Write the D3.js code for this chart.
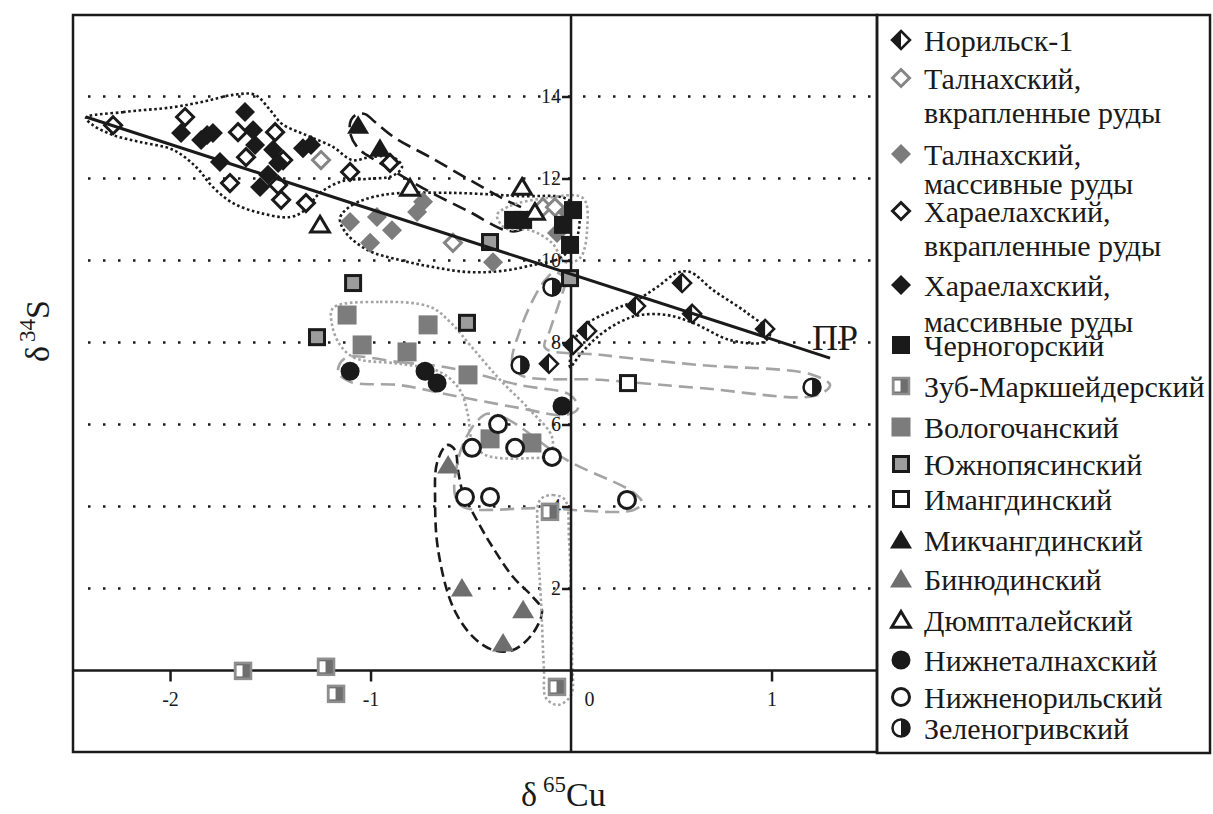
<!DOCTYPE html>
<html>
<head>
<meta charset="utf-8">
<script src="https://cdn.jsdelivr.net/npm/d3@7"></script>
<style>
body { margin: 0; background: #fff; }
svg { font-family: "Liberation Serif", "Times New Roman", serif; }
</style>
</head>
<body>
<svg id="chart" width="1213" height="814"></svg>
<script>
// ---- data (delta65Cu, delta34S) ----
var norilsk1 = [[-0.110,7.48],[0.010,7.94],[0.080,8.28],[0.324,8.89],[0.554,9.45],[0.604,8.70],[0.968,8.33]];
var talnakhDissem = [[-0.589,10.43],[-0.140,11.30],[-0.080,11.30],[-1.247,12.45]];
var talnakhMassive = [[-1.102,10.94],[-1.002,10.43],[-0.968,11.06],[-0.893,10.74],[-0.768,11.18],[-0.738,11.43],[-0.389,9.96],[-0.070,10.67],[-0.020,11.18]];
var kharaelakhDissem = [[-2.284,13.30],[-1.925,13.50],[-1.661,13.13],[-1.621,12.52],[-1.476,13.13],[-1.436,12.45],[-1.701,11.89],[-1.461,11.84],[-1.446,11.48],[-1.322,11.40],[-1.102,12.16],[-0.903,12.38]];
var kharaelakhMassive = [[-1.945,13.11],[-1.845,12.94],[-1.815,13.06],[-1.786,13.11],[-1.626,13.62],[-1.586,13.18],[-1.576,12.82],[-1.486,12.70],[-1.461,12.38],[-1.511,12.09],[-1.751,12.40],[-1.551,11.79],[-1.337,12.74],[-1.297,12.82]];
var chernogorsky = [[-0.289,10.99],[-0.239,10.99],[0.010,11.23],[-0.040,10.87],[-0.005,10.38]];
var zubMarksheider = [[-1.636,-0.01],[-1.222,0.09],[-1.172,-0.57],[-0.070,-0.40],[-0.105,3.87]];
var vologochan = [[-1.117,8.67],[-0.713,8.43],[-1.042,7.94],[-0.818,7.77],[-0.514,7.21],[-0.404,5.65],[-0.195,5.55]];
var yuzhnopyasin = [[-1.087,9.45],[-1.267,8.13],[-0.519,8.48],[-0.404,10.45],[-0.005,9.57]];
var imangda = [[0.284,7.01]];
var mikchangda = [[-1.062,13.30],[-0.953,12.74]];
var binyuda = [[-0.613,5.01],[-0.544,2.01],[-0.239,1.48],[-0.339,0.67]];
var dyumptaley = [[-1.252,10.87],[-0.803,11.77],[-0.244,11.79],[-0.180,11.18]];
var nizhnetalnakh = [[-1.102,7.30],[-0.728,7.30],[-0.668,7.01],[-0.045,6.45]];
var nizhnenorilsk = [[-0.364,6.01],[-0.494,5.43],[-0.279,5.43],[-0.095,5.21],[-0.529,4.23],[-0.404,4.23],[0.279,4.16]];
var zelenogriv = [[-0.095,9.35],[-0.254,7.45],[1.202,6.91]];

// regression line "ПР"
var trendLine = [[-2.419,13.50],[1.292,7.62]];

// hand-drawn field outlines
var kharaelakhField = [[-2.419,13.48],[-2.234,13.62],[-1.985,13.74],[-1.820,13.89],[-1.686,14.04],[-1.576,14.04],[-1.501,13.67],[-1.441,13.33],[-1.322,13.06],[-1.187,12.77],[-1.092,12.45],[-1.002,12.52],[-0.888,12.52],[-0.843,12.28],[-0.893,12.06],[-1.017,11.99],[-1.137,11.94],[-1.252,11.65],[-1.327,11.23],[-1.401,11.06],[-1.551,11.16],[-1.686,11.40],[-1.786,11.79],[-1.870,12.28],[-1.985,12.70],[-2.150,12.89],[-2.284,13.06],[-2.384,13.30]];
var mikchangdaField = [[-1.067,13.57],[-1.027,13.57],[-0.978,13.38],[-0.878,12.99],[-0.703,12.52],[-0.504,11.96],[-0.329,11.48],[-0.229,11.23],[-0.204,10.99],[-0.254,10.74],[-0.329,10.74],[-0.504,11.18],[-0.703,11.67],[-0.878,12.16],[-0.978,12.45],[-1.062,12.74],[-1.102,13.11],[-1.097,13.43]];
var talnakhField = [[-1.152,11.04],[-1.092,11.35],[-0.938,11.60],[-0.603,11.65],[-0.254,11.57],[-0.030,11.52],[0.035,11.23],[0.025,10.50],[-0.055,10.06],[-0.190,9.89],[-0.354,9.74],[-0.519,9.72],[-0.688,9.84],[-0.853,10.01],[-1.017,10.26],[-1.127,10.70]];
var chernogorskyField = [[-0.369,11.11],[-0.304,11.33],[-0.130,11.52],[0.060,11.52],[0.080,10.74],[0.045,10.06],[-0.030,9.96],[-0.095,10.43],[-0.204,10.74],[-0.329,10.79]];
var norilskField = [[-0.005,7.40],[0.045,8.31],[0.209,8.79],[0.329,9.04],[0.429,9.35],[0.529,9.70],[0.594,9.72],[0.708,9.28],[0.878,8.72],[0.993,8.23],[0.958,8.01],[0.793,8.06],[0.608,8.48],[0.479,8.67],[0.344,8.67],[0.244,8.50],[0.130,8.13],[0.045,7.70]];
var zelenogrivField = [[-0.080,9.72],[-0.030,9.52],[-0.055,9.04],[-0.105,8.30],[-0.130,7.87],[0.145,7.70],[0.643,7.45],[1.192,7.23],[1.292,6.96],[1.217,6.70],[0.643,6.89],[0.145,7.09],[-0.254,7.21],[-0.294,7.52],[-0.254,8.30],[-0.190,9.04],[-0.130,9.52]];
var nizhnetalnakhField = [[-1.127,7.62],[-0.853,7.52],[-0.603,7.38],[-0.254,6.96],[-0.005,6.72],[0.035,6.40],[-0.030,6.23],[-0.254,6.40],[-0.603,6.72],[-0.853,6.96],[-1.102,7.04],[-1.162,7.28]];
var nizhnenorilskField = [[-0.419,6.26],[-0.329,6.16],[-0.020,5.13],[0.309,4.35],[0.354,4.09],[0.309,3.91],[-0.155,3.96],[-0.539,3.99],[-0.579,4.28],[-0.564,5.13],[-0.519,5.72],[-0.464,6.11]];
var vologochanField = [[-1.187,8.84],[-0.953,8.99],[-0.703,8.87],[-0.603,8.50],[-0.504,7.94],[-0.354,7.09],[-0.204,6.35],[-0.095,5.70],[-0.105,5.26],[-0.204,5.18],[-0.429,5.26],[-0.494,5.62],[-0.514,6.23],[-0.554,6.84],[-0.653,7.28],[-0.853,7.48],[-1.077,7.62],[-1.152,7.94],[-1.192,8.43]];
var binyudaField = [[-0.618,5.50],[-0.668,5.07],[-0.678,4.16],[-0.663,2.94],[-0.589,1.55],[-0.489,0.82],[-0.389,0.50],[-0.289,0.50],[-0.190,0.91],[-0.145,1.47],[-0.190,1.79],[-0.289,2.28],[-0.404,3.11],[-0.489,3.84],[-0.539,4.33],[-0.564,4.89],[-0.579,5.38]];
var zubField = [[-0.155,4.16],[-0.090,4.28],[-0.030,4.16],[-0.010,3.18],[0.000,1.72],[0.005,0.26],[0.000,-0.60],[-0.065,-0.84],[-0.125,-0.67],[-0.135,0.01],[-0.150,1.72],[-0.165,3.18]];

var xTicks = [-2, -1, 0, 1];
var yTicks = [2, 4, 6, 8, 10, 12, 14];
var legendLabels = ["Норильск-1", "Талнахский,\nвкрапленные руды", "Талнахский,\nмассивные руды",
  "Хараелахский,\nвкрапленные руды", "Хараелахский,\nмассивные руды", "Черногорский",
  "Зуб-Маркшейдерский", "Вологочанский", "Южнопясинский", "Имангдинский", "Микчангдинский",
  "Бинюдинский", "Дюмпталейский", "Нижнеталнахский", "Нижненорильский", "Зеленогривский"];

// ---- chart ----
var svg = d3.select("#chart");
var plotL = 73, plotR = 877, plotT = 15, plotB = 752;

var x = d3.scaleLinear().domain([-2.484, 1.526]).range([plotL, plotR]);
var y = d3.scaleLinear().domain([-1.988, 15.988]).range([plotB, plotT]);

var BLACK = "#1a1a1a", GRAY = "#7c7c7c", LIGHT = "#a4a4a4";

var series = [
  {data: norilsk1, kind: "dHalf"},
  {data: talnakhDissem, kind: "dOpenGray"},
  {data: talnakhMassive, kind: "dGray"},
  {data: kharaelakhDissem, kind: "dOpen"},
  {data: kharaelakhMassive, kind: "dBlack"},
  {data: chernogorsky, kind: "sqBlack"},
  {data: zubMarksheider, kind: "sqHalf"},
  {data: vologochan, kind: "sqGray"},
  {data: yuzhnopyasin, kind: "sqGrayB"},
  {data: imangda, kind: "sqOpen"},
  {data: mikchangda, kind: "triBlack"},
  {data: binyuda, kind: "triGray"},
  {data: dyumptaley, kind: "triOpen"},
  {data: nizhnetalnakh, kind: "cBlack"},
  {data: nizhnenorilsk, kind: "cOpen"},
  {data: zelenogriv, kind: "cHalf"}
];

var fields = [
  {pts: kharaelakhField, color: BLACK, dash: "2.6,2.6"},
  {pts: talnakhField, color: BLACK, dash: "2.6,2.6"},
  {pts: norilskField, color: BLACK, dash: "2.6,2.6"},
  {pts: mikchangdaField, color: BLACK, dash: "14,7"},
  {pts: binyudaField, color: BLACK, dash: "10,5"},
  {pts: chernogorskyField, color: LIGHT, dash: "2.6,2.6"},
  {pts: vologochanField, color: LIGHT, dash: "2.6,2.6"},
  {pts: zubField, color: LIGHT, dash: "2.6,2.6"},
  {pts: zelenogrivField, color: LIGHT, dash: "14,7"},
  {pts: nizhnetalnakhField, color: LIGHT, dash: "14,7"},
  {pts: nizhnenorilskField, color: LIGHT, dash: "14,7"}
];

// horizontal dotted grid
svg.append("g").selectAll("line")
  .data(yTicks)
  .enter().append("line")
  .attr("x1", plotL + 15).attr("x2", plotR)
  .attr("y1", function(d){ return y(d); })
  .attr("y2", function(d){ return y(d); })
  .attr("stroke", BLACK)
  .attr("stroke-width", 2.5)
  .attr("stroke-dasharray", "2.5,12.5");

// field outlines
var outline = d3.line()
  .x(function(d){ return x(d[0]); })
  .y(function(d){ return y(d[1]); })
  .curve(d3.curveCatmullRomClosed.alpha(0.5));

svg.append("g").selectAll("path")
  .data(fields)
  .enter().append("path")
  .attr("d", function(d){ return outline(d.pts); })
  .attr("fill", "none")
  .attr("stroke", function(d){ return d.color; })
  .attr("stroke-width", 2.6)
  .attr("stroke-dasharray", function(d){ return d.dash; });

// zero axes
svg.append("line")
  .attr("x1", x(0)).attr("x2", x(0)).attr("y1", plotT).attr("y2", plotB)
  .attr("stroke", BLACK).attr("stroke-width", 2.5);
svg.append("line")
  .attr("x1", plotL).attr("x2", plotR).attr("y1", y(0)).attr("y2", y(0))
  .attr("stroke", BLACK).attr("stroke-width", 2.5);

var yAxis = svg.append("g")
  .attr("transform", "translate(" + x(0) + ",0)")
  .call(d3.axisLeft(y).tickValues(yTicks).tickSize(9).tickPadding(1).tickSizeOuter(0));
var xAxis = svg.append("g")
  .attr("transform", "translate(0," + y(0) + ")")
  .call(d3.axisBottom(x).tickValues(xTicks).tickSize(11).tickPadding(10).tickSizeOuter(0)
    .tickFormat(function(d){ return String(d); }));

[yAxis, xAxis].forEach(function(a){
  a.select(".domain").remove();
  a.selectAll(".tick line").attr("stroke", BLACK).attr("stroke-width", 2.5);
  a.selectAll(".tick text")
    .attr("fill", BLACK)
    .style("font-family", "'Liberation Serif', serif")
    .style("font-size", "20px");
});
xAxis.selectAll(".tick text").attr("dx", function(d){ return d === 0 ? 18 : 0; });

// marker drawing
function drawMarker(g, kind) {
  var s = 10;
  function dia(r) { return "M0," + (-r) + "L" + r + ",0L0," + r + "L" + (-r) + ",0Z"; }
  function tri(r) { return "M0," + (-r) + "L" + (r * 1.1) + "," + (r * 0.85) + "L" + (-r * 1.1) + "," + (r * 0.85) + "Z"; }
  switch (kind) {
    case "dHalf":
      g.append("path").attr("d", dia(s - 1)).attr("fill", "#fff").attr("stroke", BLACK).attr("stroke-width", 2.5);
      g.append("path").attr("d", "M0," + (-s + 1) + "L" + (-s + 1) + ",0L0," + (s - 1) + "Z").attr("fill", BLACK);
      break;
    case "dOpenGray":
      g.append("path").attr("d", dia(s - 1.5)).attr("fill", "#fff").attr("stroke", "#858585").attr("stroke-width", 3);
      break;
    case "dGray":
      g.append("path").attr("d", dia(s)).attr("fill", GRAY);
      break;
    case "dOpen":
      g.append("path").attr("d", dia(s - 1.5)).attr("fill", "#fff").attr("stroke", BLACK).attr("stroke-width", 3);
      break;
    case "dBlack":
      g.append("path").attr("d", dia(s)).attr("fill", BLACK);
      break;
    case "sqBlack":
      g.append("rect").attr("x", -9).attr("y", -9).attr("width", 18).attr("height", 18).attr("fill", BLACK);
      break;
    case "sqHalf":
      g.append("rect").attr("x", -8).attr("y", -8).attr("width", 16).attr("height", 16)
        .attr("fill", "#6e6e6e").attr("stroke", "#8e8e8e").attr("stroke-width", 2.5);
      g.append("rect").attr("x", -6.5).attr("y", -5.5).attr("width", 6).attr("height", 11).attr("fill", "#fff");
      break;
    case "sqGray":
      g.append("rect").attr("x", -9.5).attr("y", -9.5).attr("width", 19).attr("height", 19).attr("fill", GRAY);
      break;
    case "sqGrayB":
      g.append("rect").attr("x", -7.5).attr("y", -7.5).attr("width", 15).attr("height", 15)
        .attr("fill", "#9c9c9c").attr("stroke", BLACK).attr("stroke-width", 3);
      break;
    case "sqOpen":
      g.append("rect").attr("x", -7.5).attr("y", -7.5).attr("width", 15).attr("height", 15)
        .attr("fill", "#fff").attr("stroke", BLACK).attr("stroke-width", 3);
      break;
    case "triBlack":
      g.append("path").attr("d", tri(s)).attr("fill", BLACK);
      break;
    case "triGray":
      g.append("path").attr("d", tri(s)).attr("fill", "#6e6e6e");
      break;
    case "triOpen":
      g.append("path").attr("d", tri(s - 1.5)).attr("fill", "#fff").attr("stroke", BLACK)
        .attr("stroke-width", 3).attr("stroke-linejoin", "miter");
      break;
    case "cBlack":
      g.append("circle").attr("r", 9.5).attr("fill", BLACK);
      break;
    case "cOpen":
      g.append("circle").attr("r", 8.5).attr("fill", "#fff").attr("stroke", BLACK).attr("stroke-width", 3);
      break;
    case "cHalf":
      g.append("circle").attr("r", 8.5).attr("fill", "#fff").attr("stroke", BLACK).attr("stroke-width", 2.5);
      g.append("path").attr("d", "M0,-8.5A8.5,8.5 0 0 1 0,8.5Z").attr("fill", BLACK);
      break;
  }
}

// points
var pointLayer = svg.append("g");
series.forEach(function(sr){
  pointLayer.selectAll(null)
    .data(sr.data)
    .enter().append("g")
    .attr("transform", function(d){ return "translate(" + x(d[0]) + "," + y(d[1]) + ")"; })
    .each(function(){ drawMarker(d3.select(this), sr.kind); });
});

// regression line
svg.append("line")
  .attr("x1", x(trendLine[0][0])).attr("y1", y(trendLine[0][1]))
  .attr("x2", x(trendLine[1][0])).attr("y2", y(trendLine[1][1]))
  .attr("stroke", BLACK).attr("stroke-width", 3);
svg.append("text")
  .attr("x", 812).attr("y", 350)
  .attr("font-size", 36).attr("fill", BLACK)
  .text("ПР");

// frame
svg.append("rect")
  .attr("x", plotL).attr("y", plotT).attr("width", plotR - plotL).attr("height", plotB - plotT)
  .attr("fill", "none").attr("stroke", BLACK).attr("stroke-width", 2.5);

// axis titles
var yTitle = svg.append("text")
  .attr("transform", "translate(49,331) rotate(-90)")
  .attr("text-anchor", "middle").attr("fill", BLACK).attr("font-size", 34);
yTitle.append("tspan").text("δ");
yTitle.append("tspan").attr("font-size", 23).attr("dy", -14).attr("dx", 4).text("34");
yTitle.append("tspan").attr("dy", 14).text("S");

var xTitle = svg.append("text")
  .attr("x", 521).attr("y", 806).attr("fill", BLACK).attr("font-size", 34);
xTitle.append("tspan").text("δ");
xTitle.append("tspan").attr("font-size", 23).attr("dy", -14).attr("dx", 6).text("65");
xTitle.append("tspan").attr("dy", 14).text("Cu");

// legend (layout: marker centre y per entry, gap to the wrapped second line)
var legendMarkerY = [40, 78, 154, 211, 285, 345, 386, 427, 464, 499, 540, 579, 620, 660, 697, 728];
var legendWrapGap = [0, 34, 29, 34, 36, 0, 0, 0, 0, 0, 0, 0, 0, 0, 0, 0];
var legend = svg.append("g");
legend.append("rect")
  .attr("x", plotR).attr("y", plotT).attr("width", 1210 - plotR).attr("height", 753 - plotT)
  .attr("fill", "none").attr("stroke", BLACK).attr("stroke-width", 2.5);

legendLabels.forEach(function(label, i){
  var my = legendMarkerY[i];
  var mg = legend.append("g").attr("transform", "translate(901," + my + ")");
  drawMarker(mg, series[i].kind);
  var t = legend.append("text")
    .attr("x", 924).attr("y", my + 10.5)
    .attr("font-size", 30).attr("fill", BLACK);
  label.split("\n").forEach(function(line, j){
    t.append("tspan").attr("x", 924).attr("dy", j === 0 ? 0 : legendWrapGap[i]).text(line);
  });
});
</script>
</body>
</html>
